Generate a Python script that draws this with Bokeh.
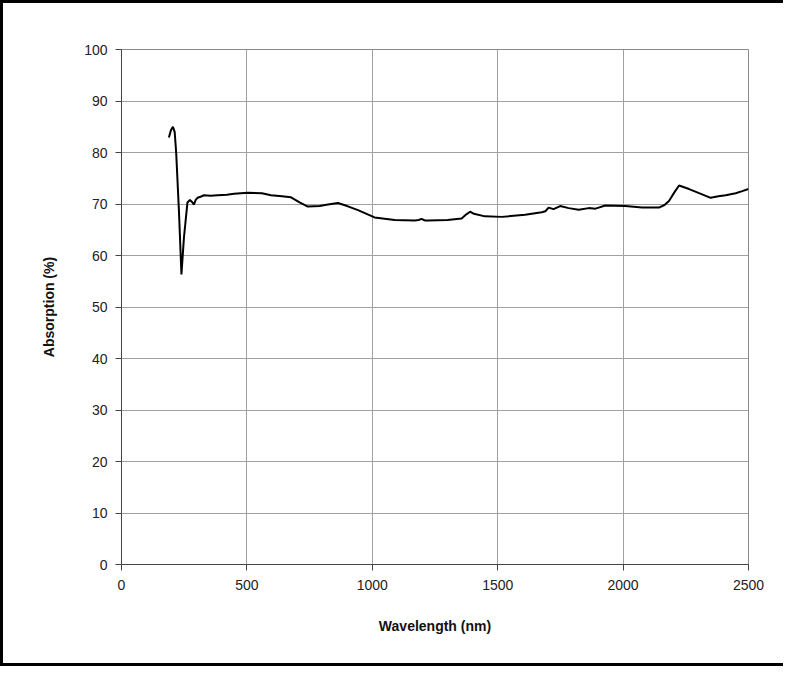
from bokeh.plotting import figure
from bokeh.embed import file_html
from bokeh.resources import INLINE
from bokeh.models import FixedTicker

# Data
wavelength = [189, 197, 205, 212, 218, 229, 239, 249, 263, 273, 281, 289, 296, 303, 315, 329,
              355, 383, 420, 449, 503, 560, 596, 640, 676, 710, 743, 790, 823, 863, 900, 943,
              1009, 1089, 1169, 1185, 1196, 1210, 1223, 1300, 1356, 1375, 1390, 1405, 1449,
              1516, 1609, 1676, 1690, 1703, 1723, 1749, 1783, 1823, 1863, 1890, 1929, 2009,
              2076, 2143, 2165, 2183, 2205, 2223, 2263, 2303, 2349, 2380, 2409, 2449, 2475, 2500]
absorption = [82.9, 84.3, 85.0, 84.0, 80.0, 68.7, 56.3, 63.5, 70.3, 70.8, 70.4, 69.9, 70.8,
              71.2, 71.4, 71.7, 71.6, 71.7, 71.8, 72.0, 72.2, 72.1, 71.7, 71.5, 71.3, 70.3,
              69.5, 69.6, 69.9, 70.2, 69.6, 68.8, 67.4, 66.9, 66.8, 66.9, 67.1, 66.8, 66.8,
              66.9, 67.2, 68.0, 68.5, 68.1, 67.6, 67.5, 67.9, 68.4, 68.6, 69.3, 69.0, 69.6,
              69.2, 68.9, 69.2, 69.1, 69.7, 69.6, 69.3, 69.3, 69.8, 70.6, 72.3, 73.6, 72.9,
              72.1, 71.2, 71.5, 71.7, 72.1, 72.5, 72.9]
x_ticks = [0, 500, 1000, 1500, 2000, 2500]
y_ticks = [0, 10, 20, 30, 40, 50, 60, 70, 80, 90, 100]

p = figure(output_backend="svg", toolbar_location=None,
           frame_width=627, frame_height=515,
           x_range=(0, 2500), y_range=(0, 100),
           min_border_left=121, min_border_right=35,
           min_border_top=49, min_border_bottom=102)

p.line(wavelength, absorption, line_color="black", line_width=2)

font = "Liberation Sans"
for ax in (p.xaxis[0], p.yaxis[0]):
    ax.major_label_text_font = font
    ax.major_label_text_font_size = "14px"
    ax.major_label_text_color = "#222222"
    ax.axis_label_text_font = font
    ax.axis_label_text_font_size = "14px"
    ax.axis_label_text_font_style = "bold"
    ax.axis_label_text_color = "#111111"
    ax.minor_tick_line_color = None
    ax.major_tick_out = 6
    ax.major_tick_in = 0
    ax.axis_line_color = "#444444"
    ax.major_tick_line_color = "#444444"

p.xaxis.ticker = FixedTicker(ticks=x_ticks)
p.yaxis.ticker = FixedTicker(ticks=y_ticks)
p.xaxis.axis_label = "Wavelength (nm)"
p.yaxis.axis_label = "Absorption (%)"
p.xaxis.major_label_standoff = 9
p.xaxis.axis_label_standoff = 25
p.yaxis.major_label_standoff = 8
p.yaxis.axis_label_standoff = 24

p.xgrid.grid_line_color = "#a0a0a0"
p.ygrid.grid_line_color = "#a0a0a0"
p.grid.grid_line_width = 1
p.outline_line_color = "#8a8a8a"
p.outline_line_width = 1
p.border_fill_color = None
p.styles = {"box-shadow": "inset 3px 3px 0 0 black, inset 0 -3px 0 0 black"}

open("out.html", "w").write(file_html(p, INLINE))
